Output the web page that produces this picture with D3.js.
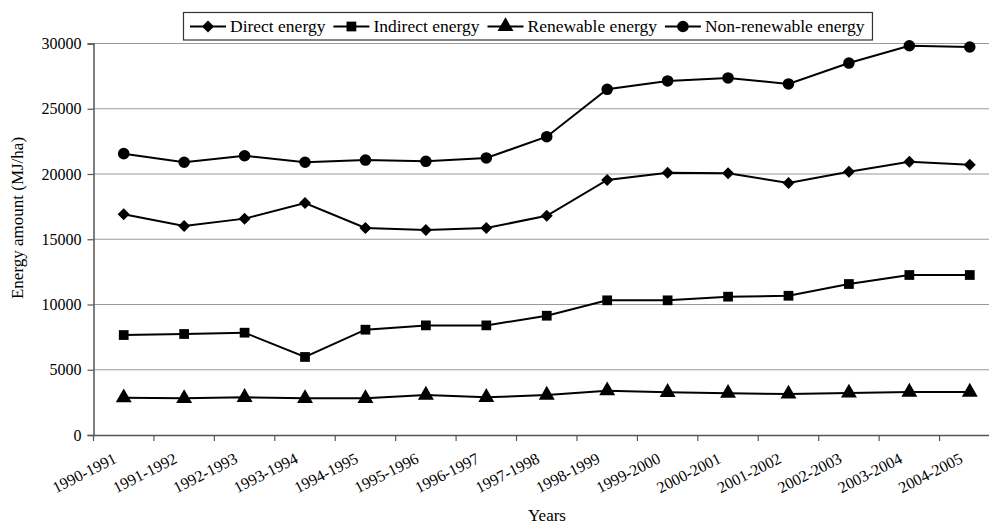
<!DOCTYPE html>
<html><head><meta charset="utf-8">
<script src="https://cdn.jsdelivr.net/npm/d3@7"></script>
</head><body style="margin:0;font-family:'Liberation Serif'"><svg id="c" width="989" height="525" font-family="Liberation Serif"></svg>
<script>
const years = ["1990-1991","1991-1992","1992-1993","1993-1994","1994-1995","1995-1996","1996-1997","1997-1998","1998-1999","1999-2000","2000-2001","2001-2002","2002-2003","2003-2004","2004-2005"];
const directEnergy = [16910,16020,16580,17780,15860,15710,15860,16800,19540,20100,20050,19310,20180,20940,20710];
const indirectEnergy = [7660,7740,7840,5980,8070,8400,8400,9140,10320,10320,10600,10670,11570,12260,12260];
const renewableEnergy = [2860,2810,2890,2810,2810,3060,2890,3060,3390,3270,3200,3140,3220,3290,3290];
const nonRenewableEnergy = [21560,20900,21400,20900,21070,20970,21230,22860,26490,27130,27360,26900,28500,29830,29730];
const yTicks = [0,5000,10000,15000,20000,25000,30000];
const seriesNames = ["Direct energy","Indirect energy","Renewable energy","Non-renewable energy"];
const seriesShapes = [d3.symbolSquare, d3.symbolSquare, d3.symbolTriangle, d3.symbolCircle];
const seriesRot = [45, 0, 0, 0];
const seriesSizes = [72, 95, 110, 105];
const seriesData = [directEnergy, indirectEnergy, renewableEnergy, nonRenewableEnergy];

const FONT = '"Liberation Serif"';
const svg = d3.select("#c");
const L = 93.5, R = 1000, T = 43.5, B = 435;
const x = d3.scaleBand().domain(years).range([L, R]);
const y = d3.scaleLinear().domain([0, 30000]).range([B, T]);

svg.append("g").selectAll("line").data(yTicks.filter(d => d > 0)).join("line")
  .attr("x1", L).attr("x2", 989).attr("y1", d => y(d)).attr("y2", d => y(d))
  .attr("stroke", "#9a9a9a").attr("stroke-width", 1);

const ya = svg.append("g").attr("transform", `translate(${L},0)`)
  .call(d3.axisLeft(y).tickValues(yTicks).tickSize(6).tickPadding(6).tickFormat(d3.format("d")));
ya.attr("font-family", null).attr("font-size", null);
ya.select(".domain").attr("stroke", "#555").attr("stroke-width", 1.5);
ya.selectAll(".tick line").attr("stroke", "#555").attr("stroke-width", 1.2);
ya.selectAll(".tick text").style("font-family", FONT).style("font-size", "16px").attr("fill", "#000");

const xa = svg.append("g").attr("transform", `translate(0,${B})`)
  .call(d3.axisBottom(x).tickSize(0).tickSizeOuter(0));
xa.attr("font-family", null).attr("font-size", null);
xa.select(".domain").attr("stroke", "#555").attr("stroke-width", 1.5);
xa.selectAll(".tick line").remove();
xa.append("g").selectAll("line").data(years).join("line")
  .attr("x1", d => x(d)).attr("x2", d => x(d)).attr("y1", 0).attr("y2", 6)
  .attr("stroke", "#555").attr("stroke-width", 1.2);
xa.selectAll(".tick text")
  .style("font-family", FONT).style("font-size", "16px").attr("fill", "#000")
  .attr("text-anchor", "end")
  .attr("dy", null).attr("y", null)
  .attr("transform", "translate(-6,27) rotate(-27)");

const line = d3.line().x((d, i) => x(years[i]) + x.bandwidth() / 2).y(d => y(d));
seriesData.forEach((arr, s) => {
  svg.append("path").datum(arr).attr("d", line)
    .attr("fill", "none").attr("stroke", "#000").attr("stroke-width", 2);
  svg.append("g").selectAll("path").data(arr).join("path")
    .attr("d", d3.symbol().type(seriesShapes[s]).size(seriesSizes[s]))
    .attr("transform", (d, i) => `translate(${x(years[i]) + x.bandwidth() / 2},${y(d)}) rotate(${seriesRot[s]})`)
    .attr("fill", "#000");
});

svg.append("text").attr("x", 547).attr("y", 521).attr("text-anchor", "middle")
  .style("font-family", FONT).style("font-size", "17px").text("Years");
svg.append("text").attr("transform", "translate(23,218) rotate(-90)").attr("text-anchor", "middle")
  .style("font-family", FONT).style("font-size", "17px").text("Energy amount (MJ/ha)");

const lg = svg.append("g");
const box = lg.append("rect").attr("y", 12.5).attr("height", 27.5)
  .attr("fill", "#fff").attr("stroke", "#333").attr("stroke-width", 1.2);
let cx = 190;
seriesNames.forEach((n, s) => {
  lg.append("line").attr("x1", cx).attr("x2", cx + 36).attr("y1", 26.5).attr("y2", 26.5)
    .attr("stroke", "#000").attr("stroke-width", 2);
  lg.append("path").attr("d", d3.symbol().type(seriesShapes[s]).size(seriesSizes[s]))
    .attr("transform", `translate(${cx + 18},26.5) rotate(${seriesRot[s]})`).attr("fill", "#000");
  const t = lg.append("text").attr("x", cx + 40).attr("y", 32)
    .style("font-family", FONT).style("font-size", "17.5px").text(n);
  let w = t.node().getComputedTextLength();
  if (!(w > 0)) w = n.length * 7.4;
  cx += 40 + w + 8;
});
box.attr("x", 183.5).attr("width", cx - 183.5);
</script></body></html>
